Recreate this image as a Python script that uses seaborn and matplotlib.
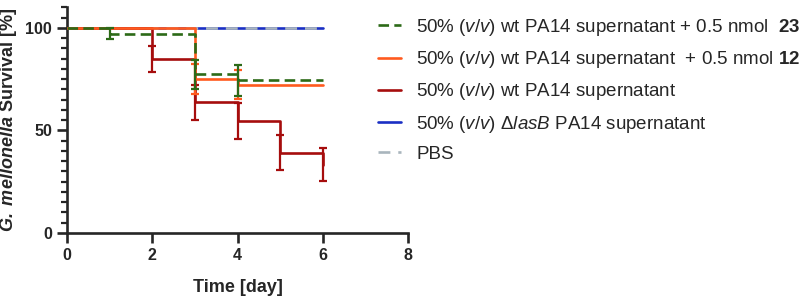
import seaborn as sns
import matplotlib.pyplot as plt
import pandas as pd

# --- data ---
green_t = [0, 1, 3, 4, 6]
green_s = [100, 97.2, 77.4, 74.4, 74.4]
green_err_t = [1, 3, 4]
green_err = [2.7, 7.0, 7.4]

orange_t = [0, 3, 4, 6]
orange_s = [100, 75.1, 72.3, 72.3]
orange_err_t = [3, 4]
orange_err = [7.4, 7.0]

red_t = [0, 2, 3, 4, 5, 6]
red_s = [100, 84.9, 63.7, 54.6, 39.2, 33.2]
red_err_t = [2, 3, 4, 5, 6]
red_err = [6.4, 8.5, 8.7, 8.6, 8.1]

blue_t = [0, 6]
blue_s = [100, 100]

grey_t = [0, 6]
grey_s = [100, 100]

labels = [
    r"50% ($\mathit{v/v}$) wt PA14 supernatant + 0.5 nmol  $\mathbf{23}$",
    r"50% ($\mathit{v/v}$) wt PA14 supernatant  + 0.5 nmol $\mathbf{12}$",
    r"50% ($\mathit{v/v}$) wt PA14 supernatant",
    r"50% ($\mathit{v/v}$) $\mathrm{\Delta}\mathit{lasB}$ PA14 supernatant",
    "PBS",
]

sns.set_style("ticks")
plt.rcParams["font.family"] = ["Liberation Sans", "DejaVu Sans"]
plt.rcParams["mathtext.fontset"] = "custom"
plt.rcParams["mathtext.rm"] = "Liberation Sans"
plt.rcParams["mathtext.it"] = "Liberation Sans:italic"
plt.rcParams["mathtext.bf"] = "Liberation Sans:bold"
plt.rcParams["mathtext.bfit"] = "Liberation Sans:italic:bold"

fig = plt.figure(figsize=(8, 2.96), dpi=100)
ax = fig.add_axes([0.084, 0.213, 0.426, 0.762])

series = [
    # t, s, err_t, err, colour, dashes, label, z
    (blue_t, blue_s, [], [], "#1a2fc4", None, labels[3], 2),
    (grey_t, grey_s, [], [], "#a9b5bd", (4.5, 3), labels[4], 3),
    (red_t, red_s, red_err_t, red_err, "#a60d0d", None, labels[2], 4),
    (orange_t, orange_s, orange_err_t, orange_err, "#ff5a1e", None, labels[1], 5),
    (green_t, green_s, green_err_t, green_err, "#2c6a17", (4, 2), labels[0], 6),
]

handles = {}
for t, s, et, e, col, dash, lab, z in series:
    df = pd.DataFrame({"t": t, "s": s})
    sns.lineplot(data=df, x="t", y="s", ax=ax, drawstyle="steps-post",
                 color=col, lw=1.9, zorder=z, estimator=None)
    line = ax.lines[-1]
    if dash is not None:
        line.set_dashes(dash)
    handles[lab] = line
    if et:
        ys = [s[t.index(v)] for v in et]
        ax.errorbar(et, ys, yerr=e, fmt="none", ecolor=col, elinewidth=1.6,
                    capsize=3, capthick=1.6, zorder=z)

ax.set_xlim(0, 8)
ax.set_ylim(0, 110)
ax.set_xticks([0, 2, 4, 6, 8])
ax.set_yticks([0, 50, 100])
ax.set_yticks(range(0, 111, 5), minor=True)
for sp in ["top", "right"]:
    ax.spines[sp].set_visible(False)
for sp in ["left", "bottom"]:
    ax.spines[sp].set_linewidth(1.9)
ax.tick_params(axis="both", which="major", length=7, width=1.9, pad=4,
               labelsize=11.5)
ax.tick_params(axis="y", which="minor", length=4, width=1.6)
for lbl in ax.get_xticklabels() + ax.get_yticklabels():
    lbl.set_fontweight("bold")

ax.set_xlabel("Time [day]", fontsize=13, fontweight="bold")
ax.xaxis.set_label_coords(0.5, -0.205)
ax.set_ylabel(r"$\mathbfit{G.\ mellonella}$ Survival [%]", fontsize=13,
              fontweight="bold")
ax.yaxis.set_label_coords(-0.14, 0.5)

fig.legend([handles[l] for l in labels], labels, loc="upper left",
           bbox_to_anchor=(0.451, 1.0), frameon=False, fontsize=13.5,
           handlelength=1.25, handletextpad=0.8, labelspacing=0.6)

fig.savefig("out.png", dpi=100)
